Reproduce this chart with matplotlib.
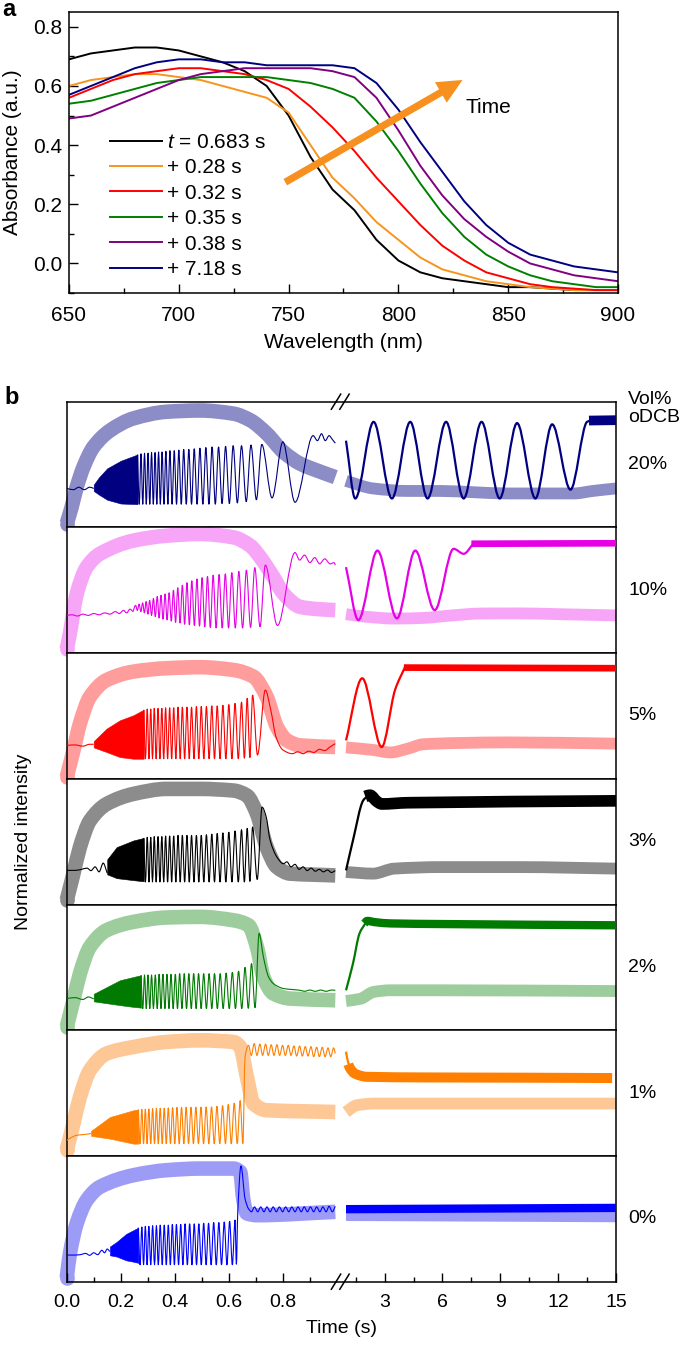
import numpy as np
import matplotlib
matplotlib.use("Agg")
import matplotlib.pyplot as plt
from matplotlib.path import Path
from matplotlib.patches import PathPatch

plt.rcParams['font.family'] = ['Liberation Sans', 'DejaVu Sans']
plt.rcParams['mathtext.fontset'] = 'custom'
plt.rcParams['mathtext.it'] = 'Liberation Sans:italic'
plt.rcParams['mathtext.rm'] = 'Liberation Sans'

# ---------------- panel a: absorbance spectra ----------------
wavelength = [650, 660, 670, 680, 690, 700, 710, 720, 730, 740, 750, 760, 770,
              780, 790, 800, 810, 820, 830, 840, 850, 860, 870, 880, 890, 900]
abs_t0683 = [0.69, 0.71, 0.72, 0.73, 0.73, 0.72, 0.70, 0.68, 0.65, 0.60, 0.50, 0.36, 0.25,
             0.18, 0.08, 0.01, -0.03, -0.05, -0.06, -0.07, -0.08, -0.08, -0.085, -0.09, -0.09, -0.09]
abs_p028 = [0.60, 0.62, 0.63, 0.64, 0.64, 0.63, 0.62, 0.60, 0.58, 0.56, 0.51, 0.40, 0.29,
            0.22, 0.14, 0.08, 0.02, -0.02, -0.04, -0.06, -0.07, -0.08, -0.085, -0.09, -0.09, -0.09]
abs_p032 = [0.56, 0.59, 0.62, 0.64, 0.65, 0.66, 0.66, 0.65, 0.64, 0.62, 0.59, 0.53, 0.46,
            0.38, 0.29, 0.21, 0.13, 0.06, 0.01, -0.03, -0.05, -0.07, -0.08, -0.085, -0.09, -0.09]
abs_p035 = [0.54, 0.55, 0.57, 0.59, 0.61, 0.62, 0.63, 0.63, 0.63, 0.63, 0.62, 0.61, 0.59,
            0.56, 0.48, 0.38, 0.27, 0.17, 0.09, 0.03, -0.01, -0.04, -0.06, -0.07, -0.08, -0.08]
abs_p038 = [0.49, 0.50, 0.53, 0.56, 0.59, 0.62, 0.64, 0.65, 0.66, 0.66, 0.66, 0.66, 0.65,
            0.63, 0.56, 0.45, 0.33, 0.23, 0.15, 0.09, 0.04, 0.0, -0.02, -0.04, -0.05, -0.06]
abs_p718 = [0.57, 0.60, 0.63, 0.66, 0.68, 0.69, 0.69, 0.68, 0.68, 0.67, 0.67, 0.67, 0.67,
            0.66, 0.61, 0.52, 0.41, 0.31, 0.21, 0.13, 0.07, 0.03, 0.01, -0.01, -0.02, -0.03]
spectra_labels = ['$t$ = 0.683 s', '+ 0.28 s', '+ 0.32 s', '+ 0.35 s', '+ 0.38 s', '+ 7.18 s']
spectra_colors = ['#000000', '#f7941d', '#ff0000', '#008000', '#800080', '#000080']

# ---------------- panel b: normalized intensity traces ----------------
vol_labels = ['20%', '10%', '5%', '3%', '2%', '1%', '0%']
thin_colors = ['#000080', '#e600e6', '#ff0000', '#000000', '#007a00', '#ff7f00', '#0000ff']
thick_colors = ['#8c8cc6', '#f7a6f7', '#ff9d9d', '#8c8c8c', '#9dcc9d', '#fdc896', '#9c9cf7']
plateau_lw = [7, 4.8, 4.8, 8.4, 6, 7.2, 6]

# 20 %
thick_l_20 = [(0, 0.03), (0.018, 0.16), (0.037, 0.32), (0.062, 0.48), (0.099, 0.64), (0.16, 0.77),
              (0.247, 0.867), (0.37, 0.92), (0.494, 0.93), (0.617, 0.905), (0.679, 0.853), (0.74, 0.747),
              (0.802, 0.60), (0.864, 0.507), (0.926, 0.453), (0.994, 0.40)]
thick_r_20 = [(1.0, 0.37), (2.4, 0.31), (4.2, 0.29), (5.9, 0.29), (7.6, 0.28), (9.4, 0.27),
              (11.1, 0.27), (12.8, 0.27), (13.8, 0.29), (15.0, 0.31)]
pre_20 = [(0, 0.31), (0.025, 0.30), (0.045, 0.32), (0.065, 0.30), (0.085, 0.32), (0.10, 0.31)]
band_20 = [(0.10, 0.29, 0.34), (0.12, 0.26, 0.40), (0.15, 0.22, 0.47), (0.20, 0.19, 0.53), (0.262, 0.185, 0.58)]
fringe_20 = [(0.262, 0.58), (0.2685, 0.185), (0.275, 0.585), (0.2815, 0.185), (0.288, 0.59), (0.2945, 0.185),
             (0.301, 0.59), (0.3075, 0.185), (0.314, 0.595), (0.3205, 0.185), (0.327, 0.595), (0.3335, 0.185),
             (0.340, 0.60), (0.3465, 0.185), (0.353, 0.60), (0.360, 0.185), (0.367, 0.605), (0.3745, 0.185),
             (0.382, 0.61), (0.390, 0.185), (0.398, 0.61), (0.4065, 0.185), (0.415, 0.615), (0.424, 0.185),
             (0.433, 0.62), (0.4425, 0.185), (0.452, 0.62), (0.462, 0.185), (0.472, 0.625), (0.4825, 0.185),
             (0.493, 0.63), (0.504, 0.185), (0.515, 0.635), (0.5265, 0.185), (0.538, 0.64), (0.550, 0.185),
             (0.562, 0.64), (0.575, 0.19), (0.588, 0.645), (0.602, 0.19), (0.616, 0.65), (0.6315, 0.195),
             (0.647, 0.65), (0.6645, 0.205), (0.682, 0.655), (0.702, 0.22), (0.722, 0.66), (0.760, 0.235),
             (0.800, 0.68), (0.845, 0.20), (0.912, 0.73), (0.928, 0.69), (0.943, 0.745), (0.957, 0.69),
             (0.971, 0.73), (0.983, 0.70), (0.994, 0.67)]
thin_r_20 = [(1.0, 0.69), (1.48, 0.23), (2.43, 0.84), (3.38, 0.23), (4.33, 0.84), (5.23, 0.23),
             (6.19, 0.84), (7.10, 0.23), (8.03, 0.84), (8.97, 0.23), (9.87, 0.83), (10.82, 0.23),
             (11.69, 0.82), (12.64, 0.30), (13.5, 0.84), (13.7, 0.85)]
plateau_20 = [(13.6, 0.85), (15.0, 0.853)]

# 10 %
thick_l_10 = [(0, 0.03), (0.012, 0.16), (0.037, 0.47), (0.074, 0.684), (0.123, 0.79), (0.247, 0.895),
              (0.37, 0.934), (0.494, 0.948), (0.617, 0.921), (0.679, 0.855), (0.716, 0.763), (0.765, 0.605),
              (0.802, 0.474), (0.864, 0.368), (0.93, 0.35), (0.994, 0.342)]
thick_r_10 = [(1.0, 0.31), (2.0, 0.29), (3.5, 0.275), (5.0, 0.28), (6.5, 0.30), (8.0, 0.315),
              (10.0, 0.316), (12.0, 0.31), (15.0, 0.30)]
pre_10 = [(0, 0.30), (0.02, 0.305), (0.04, 0.295), (0.06, 0.31), (0.08, 0.30), (0.10, 0.315), (0.12, 0.305),
          (0.14, 0.32), (0.16, 0.31), (0.18, 0.33), (0.195, 0.315), (0.21, 0.34), (0.222, 0.32),
          (0.234, 0.35), (0.245, 0.33)]
band_10 = []
fringe_10 = [(0.245, 0.33), (0.255, 0.38), (0.2615, 0.34), (0.268, 0.39), (0.2745, 0.33), (0.281, 0.40),
             (0.2875, 0.32), (0.294, 0.41), (0.3005, 0.31), (0.307, 0.42), (0.314, 0.30), (0.321, 0.435),
             (0.328, 0.29), (0.335, 0.45), (0.342, 0.28), (0.349, 0.46), (0.3565, 0.27), (0.364, 0.47),
             (0.3715, 0.265), (0.379, 0.48), (0.387, 0.255), (0.395, 0.50), (0.403, 0.245), (0.411, 0.52),
             (0.4195, 0.24), (0.428, 0.54), (0.4365, 0.23), (0.445, 0.56), (0.454, 0.225), (0.463, 0.575),
             (0.4725, 0.22), (0.482, 0.59), (0.4915, 0.215), (0.501, 0.60), (0.511, 0.21), (0.521, 0.61),
             (0.5315, 0.205), (0.542, 0.62), (0.553, 0.20), (0.564, 0.625), (0.5755, 0.20), (0.587, 0.63),
             (0.599, 0.20), (0.611, 0.64), (0.624, 0.20), (0.637, 0.65), (0.651, 0.20), (0.665, 0.66),
             (0.6805, 0.205), (0.696, 0.68), (0.7155, 0.21), (0.735, 0.70), (0.78, 0.22), (0.845, 0.80),
             (0.862, 0.74), (0.88, 0.78), (0.90, 0.72), (0.918, 0.76), (0.936, 0.71), (0.955, 0.75),
             (0.975, 0.71), (0.99, 0.72), (0.994, 0.70)]
thin_r_10 = [(1.0, 0.684), (1.64, 0.263), (2.63, 0.816), (3.64, 0.276), (4.59, 0.816), (5.6, 0.342),
             (6.58, 0.83), (7.1, 0.79), (7.6, 0.87)]
plateau_10 = [(7.5, 0.87), (15.0, 0.874)]

# 5 %
thick_l_5 = [(0, 0.013), (0.025, 0.226), (0.049, 0.44), (0.086, 0.653), (0.148, 0.786), (0.247, 0.853),
             (0.37, 0.88), (0.494, 0.888), (0.617, 0.866), (0.691, 0.813), (0.74, 0.653), (0.778, 0.413),
             (0.815, 0.306), (0.864, 0.266), (0.994, 0.253)]
thick_r_5 = [(1.0, 0.25), (2.4, 0.23), (3.3, 0.21), (4.2, 0.24), (5.0, 0.275), (6.8, 0.285),
             (9.4, 0.29), (15.0, 0.28)]
pre_5 = [(0, 0.266), (0.03, 0.27), (0.06, 0.26), (0.085, 0.275), (0.10, 0.275)]
band_5 = [(0.10, 0.25, 0.30), (0.148, 0.213, 0.40), (0.197, 0.173, 0.466), (0.247, 0.16, 0.506),
          (0.285, 0.16, 0.55)]
fringe_5 = [(0.285, 0.55), (0.2915, 0.16), (0.298, 0.555), (0.3045, 0.16), (0.311, 0.555), (0.3175, 0.16),
            (0.324, 0.56), (0.331, 0.16), (0.338, 0.56), (0.345, 0.16), (0.352, 0.56), (0.359, 0.16),
            (0.366, 0.565), (0.3735, 0.16), (0.381, 0.565), (0.3885, 0.16), (0.396, 0.565), (0.404, 0.16),
            (0.412, 0.57), (0.420, 0.16), (0.428, 0.57), (0.4365, 0.16), (0.445, 0.57), (0.4535, 0.16),
            (0.462, 0.57), (0.471, 0.16), (0.480, 0.575), (0.489, 0.16), (0.498, 0.575), (0.5075, 0.16),
            (0.517, 0.575), (0.527, 0.16), (0.537, 0.58), (0.547, 0.16), (0.557, 0.58), (0.5675, 0.16),
            (0.578, 0.585), (0.589, 0.16), (0.600, 0.59), (0.6115, 0.16), (0.623, 0.60), (0.635, 0.16),
            (0.647, 0.61), (0.6575, 0.165), (0.668, 0.64), (0.678, 0.17), (0.688, 0.666), (0.706, 0.19),
            (0.735, 0.706), (0.755, 0.55), (0.775, 0.33), (0.80, 0.23), (0.835, 0.20), (0.855, 0.215),
            (0.875, 0.20), (0.895, 0.22), (0.915, 0.21), (0.935, 0.235), (0.955, 0.225), (0.975, 0.255),
            (0.994, 0.28)]
thin_r_5 = [(1.0, 0.306), (1.84, 0.80), (2.85, 0.253), (3.54, 0.706), (4.06, 0.89)]
plateau_5 = [(4.0, 0.885), (15.0, 0.88)]

# 3 %
thick_l_3 = [(0, 0.035), (0.025, 0.246), (0.049, 0.457), (0.086, 0.667), (0.148, 0.80), (0.247, 0.88),
             (0.37, 0.92), (0.494, 0.92), (0.617, 0.907), (0.667, 0.867), (0.704, 0.722), (0.74, 0.457),
             (0.778, 0.298), (0.827, 0.246), (0.994, 0.232)]
thick_r_3 = [(1.0, 0.259), (2.4, 0.246), (3.5, 0.286), (5.9, 0.298), (10.0, 0.298), (15.0, 0.286)]
pre_3 = [(0, 0.272), (0.03, 0.272), (0.055, 0.28), (0.075, 0.29), (0.09, 0.27), (0.105, 0.30),
         (0.12, 0.26), (0.135, 0.33), (0.15, 0.25)]
band_3 = [(0.15, 0.24, 0.36), (0.185, 0.21, 0.457), (0.247, 0.194, 0.51), (0.285, 0.185, 0.53)]
fringe_3 = [(0.285, 0.53), (0.2915, 0.18), (0.298, 0.535), (0.3045, 0.18), (0.311, 0.535), (0.3175, 0.18),
            (0.324, 0.54), (0.331, 0.18), (0.338, 0.54), (0.345, 0.18), (0.352, 0.54), (0.359, 0.18),
            (0.366, 0.545), (0.3735, 0.18), (0.381, 0.545), (0.3885, 0.18), (0.396, 0.545), (0.404, 0.18),
            (0.412, 0.55), (0.420, 0.18), (0.428, 0.55), (0.4365, 0.18), (0.445, 0.55), (0.4535, 0.18),
            (0.462, 0.55), (0.471, 0.18), (0.480, 0.55), (0.489, 0.18), (0.498, 0.55), (0.5075, 0.18),
            (0.517, 0.555), (0.527, 0.18), (0.537, 0.56), (0.547, 0.18), (0.557, 0.565), (0.5675, 0.18),
            (0.578, 0.57), (0.589, 0.18), (0.600, 0.575), (0.6115, 0.18), (0.623, 0.585), (0.635, 0.18),
            (0.647, 0.595), (0.6575, 0.18), (0.668, 0.605), (0.678, 0.185), (0.688, 0.617), (0.705, 0.20),
            (0.723, 0.775), (0.738, 0.70), (0.753, 0.51), (0.778, 0.378), (0.802, 0.325), (0.815, 0.34),
            (0.830, 0.30), (0.845, 0.32), (0.860, 0.28), (0.875, 0.30), (0.890, 0.27), (0.905, 0.29),
            (0.920, 0.265), (0.935, 0.28), (0.950, 0.26), (0.965, 0.275), (0.980, 0.255), (0.994, 0.27)]
thin_r_3 = [(1.0, 0.272), (1.36, 0.51), (1.89, 0.828), (2.1, 0.86)]
plateau_3 = [(2.0, 0.86), (2.24, 0.87), (2.6, 0.82), (2.85, 0.80), (4.2, 0.81), (15.0, 0.825)]

# 2 %
thick_l_2 = [(0, 0.026), (0.025, 0.239), (0.049, 0.451), (0.086, 0.663), (0.148, 0.796), (0.247, 0.862),
             (0.37, 0.897), (0.494, 0.902), (0.617, 0.875), (0.673, 0.835), (0.704, 0.663), (0.728, 0.424),
             (0.765, 0.292), (0.827, 0.252), (0.994, 0.239)]
thick_r_2 = [(1.0, 0.233), (1.74, 0.25), (2.43, 0.305), (3.3, 0.318), (5.9, 0.318), (15.0, 0.312)]
pre_2 = [(0, 0.252), (0.03, 0.26), (0.06, 0.245), (0.08, 0.265), (0.10, 0.25)]
band_2 = [(0.10, 0.23, 0.29), (0.197, 0.20, 0.398), (0.247, 0.186, 0.424), (0.275, 0.18, 0.438)]
fringe_2 = [(0.275, 0.438), (0.2815, 0.173), (0.288, 0.44), (0.2945, 0.173), (0.301, 0.44), (0.3075, 0.173),
            (0.314, 0.44), (0.321, 0.173), (0.328, 0.44), (0.335, 0.173), (0.342, 0.445), (0.349, 0.173),
            (0.356, 0.445), (0.3635, 0.173), (0.371, 0.445), (0.3785, 0.173), (0.386, 0.445), (0.394, 0.173),
            (0.402, 0.445), (0.410, 0.173), (0.418, 0.45), (0.4265, 0.173), (0.435, 0.45), (0.4435, 0.173),
            (0.452, 0.45), (0.461, 0.173), (0.470, 0.45), (0.479, 0.173), (0.488, 0.45), (0.4975, 0.173),
            (0.507, 0.45), (0.517, 0.173), (0.527, 0.45), (0.537, 0.173), (0.547, 0.45), (0.5575, 0.173),
            (0.568, 0.45), (0.579, 0.173), (0.590, 0.455), (0.6015, 0.173), (0.613, 0.46), (0.6245, 0.173),
            (0.636, 0.47), (0.648, 0.173), (0.660, 0.50), (0.672, 0.175), (0.684, 0.53), (0.697, 0.18),
            (0.712, 0.77), (0.728, 0.583), (0.747, 0.424), (0.765, 0.371), (0.785, 0.345), (0.802, 0.332),
            (0.830, 0.325), (0.864, 0.318), (0.880, 0.31), (0.900, 0.32), (0.920, 0.31), (0.940, 0.32),
            (0.960, 0.31), (0.980, 0.32), (0.994, 0.318)]
thin_r_2 = [(1.0, 0.318), (1.36, 0.53), (1.7, 0.77), (2.0, 0.85)]
plateau_2 = [(1.95, 0.85), (2.1, 0.87), (2.5, 0.86), (3.3, 0.85), (5.9, 0.845), (15.0, 0.835)]

# 1 %
thick_l_1 = [(0, 0.045), (0.025, 0.258), (0.049, 0.469), (0.086, 0.682), (0.148, 0.815), (0.247, 0.867),
             (0.37, 0.907), (0.494, 0.92), (0.617, 0.907), (0.642, 0.867), (0.667, 0.628), (0.691, 0.417),
             (0.74, 0.364), (0.994, 0.35)]
thick_r_1 = [(1.0, 0.35), (1.55, 0.403), (2.43, 0.417), (15.0, 0.417)]
pre_1 = [(0, 0.125), (0.02, 0.15), (0.037, 0.165), (0.06, 0.17), (0.08, 0.175), (0.09, 0.18)]
band_1 = [(0.09, 0.16, 0.20), (0.16, 0.138, 0.31), (0.247, 0.098, 0.364), (0.265, 0.098, 0.37)]
fringe_1 = [(0.265, 0.37), (0.2715, 0.098), (0.278, 0.37), (0.2845, 0.098), (0.291, 0.372), (0.2975, 0.098),
            (0.304, 0.374), (0.311, 0.098), (0.318, 0.376), (0.325, 0.098), (0.332, 0.378), (0.339, 0.098),
            (0.346, 0.38), (0.3535, 0.098), (0.361, 0.38), (0.3685, 0.098), (0.376, 0.382), (0.384, 0.098),
            (0.392, 0.384), (0.400, 0.098), (0.408, 0.386), (0.4165, 0.098), (0.425, 0.386), (0.4335, 0.098),
            (0.442, 0.387), (0.451, 0.098), (0.460, 0.387), (0.469, 0.098), (0.478, 0.388), (0.4875, 0.098),
            (0.497, 0.388), (0.5065, 0.098), (0.516, 0.39), (0.526, 0.098), (0.536, 0.39), (0.546, 0.098),
            (0.556, 0.395), (0.5665, 0.098), (0.577, 0.40), (0.5875, 0.098), (0.598, 0.41), (0.609, 0.098),
            (0.620, 0.42), (0.631, 0.10), (0.642, 0.44), (0.652, 0.10), (0.660, 0.788), (0.673, 0.88),
            (0.683, 0.80), (0.694, 0.894), (0.704, 0.80), (0.715, 0.89), (0.725, 0.80), (0.736, 0.89),
            (0.746, 0.80), (0.757, 0.885), (0.767, 0.80), (0.778, 0.885), (0.788, 0.80), (0.799, 0.88),
            (0.809, 0.80), (0.820, 0.88), (0.830, 0.80), (0.841, 0.875), (0.851, 0.795), (0.862, 0.875),
            (0.872, 0.795), (0.883, 0.87), (0.893, 0.795), (0.904, 0.87), (0.914, 0.79), (0.925, 0.865),
            (0.935, 0.79), (0.946, 0.865), (0.956, 0.79), (0.967, 0.86), (0.977, 0.79), (0.988, 0.86),
            (0.994, 0.815)]
thin_r_1 = [(1.0, 0.83), (1.1, 0.75), (1.2, 0.71)]
plateau_1 = [(1.12, 0.73), (1.2, 0.70), (1.46, 0.655), (2.07, 0.63), (5.0, 0.625), (10.0, 0.623), (14.8, 0.62)]

# 0 %
thick_l_0 = [(0, 0.027), (0.012, 0.225), (0.037, 0.463), (0.074, 0.648), (0.123, 0.754), (0.247, 0.847),
             (0.37, 0.887), (0.494, 0.90), (0.617, 0.90), (0.642, 0.873), (0.654, 0.648), (0.667, 0.543),
             (0.704, 0.529), (0.994, 0.556)]
thick_r_0 = [(1.0, 0.53), (8.0, 0.525), (15.0, 0.52)]
pre_0 = [(0, 0.212), (0.03, 0.212), (0.05, 0.215), (0.07, 0.225), (0.085, 0.21), (0.10, 0.23),
         (0.115, 0.215), (0.13, 0.25), (0.14, 0.23), (0.15, 0.26), (0.16, 0.24)]
band_0 = [(0.16, 0.21, 0.28), (0.185, 0.20, 0.317), (0.22, 0.17, 0.38), (0.247, 0.159, 0.41), (0.265, 0.15, 0.43)]
fringe_0 = [(0.265, 0.43), (0.2715, 0.135), (0.278, 0.435), (0.2845, 0.135), (0.291, 0.44), (0.2975, 0.135),
            (0.304, 0.44), (0.311, 0.135), (0.318, 0.445), (0.325, 0.135), (0.332, 0.445), (0.339, 0.135),
            (0.346, 0.45), (0.3535, 0.135), (0.361, 0.45), (0.3685, 0.135), (0.376, 0.45), (0.3835, 0.135),
            (0.391, 0.455), (0.3985, 0.135), (0.406, 0.455), (0.414, 0.135), (0.422, 0.455), (0.430, 0.135),
            (0.438, 0.46), (0.4465, 0.135), (0.455, 0.46), (0.4635, 0.135), (0.472, 0.46), (0.4805, 0.135),
            (0.489, 0.46), (0.498, 0.135), (0.507, 0.465), (0.516, 0.135), (0.525, 0.465), (0.5345, 0.135),
            (0.544, 0.47), (0.5535, 0.135), (0.563, 0.47), (0.573, 0.135), (0.583, 0.475), (0.593, 0.135),
            (0.603, 0.48), (0.613, 0.135), (0.623, 0.49), (0.628, 0.14), (0.633, 0.55), (0.645, 0.92),
            (0.660, 0.66), (0.673, 0.58), (0.684, 0.556), (0.695, 0.595), (0.707, 0.556), (0.718, 0.595),
            (0.730, 0.556), (0.741, 0.595), (0.753, 0.556), (0.764, 0.595), (0.776, 0.556), (0.787, 0.595),
            (0.799, 0.556), (0.810, 0.595), (0.822, 0.556), (0.833, 0.595), (0.845, 0.556), (0.856, 0.595),
            (0.868, 0.556), (0.879, 0.595), (0.891, 0.556), (0.902, 0.595), (0.914, 0.556), (0.925, 0.595),
            (0.937, 0.556), (0.948, 0.595), (0.960, 0.556), (0.971, 0.60), (0.983, 0.556), (0.994, 0.60)]
thin_r_0 = []
plateau_0 = [(1.0, 0.577), (15.0, 0.587)]

rows = [
    (thick_l_20, thick_r_20, pre_20, band_20, fringe_20, thin_r_20, plateau_20),
    (thick_l_10, thick_r_10, pre_10, band_10, fringe_10, thin_r_10, plateau_10),
    (thick_l_5, thick_r_5, pre_5, band_5, fringe_5, thin_r_5, plateau_5),
    (thick_l_3, thick_r_3, pre_3, band_3, fringe_3, thin_r_3, plateau_3),
    (thick_l_2, thick_r_2, pre_2, band_2, fringe_2, thin_r_2, plateau_2),
    (thick_l_1, thick_r_1, pre_1, band_1, fringe_1, thin_r_1, plateau_1),
    (thick_l_0, thick_r_0, pre_0, band_0, fringe_0, thin_r_0, plateau_0),
]

# broken time axis: 0-1 s stretched, 1-15 s compressed, small gap between
GAP = 0.0337
K = 0.07137


def fwd(t):
    t = np.asarray(t, float)
    return np.where(t < 0.999, t, 1.0 + GAP + (t - 1.0) * K)


def inv(u):
    u = np.asarray(u, float)
    return np.where(u < 1.0 + GAP, np.minimum(u, 0.999), 1.0 + (u - 1.0 - GAP) / K)


def smooth(ax, pts, color, lw, z=3, clip=True):
    """Draw a smooth curve through the given points (cubic Bezier pieces)."""
    if len(pts) < 2:
        return
    p = np.asarray(pts, float)
    t, y = p[:, 0], p[:, 1]
    d = np.diff(y) / np.diff(t)
    s = np.empty_like(y)
    s[0], s[-1] = d[0], d[-1]
    inner = d[:-1] * d[1:]
    with np.errstate(divide='ignore', invalid='ignore'):
        hm = 2.0 / (1.0 / d[:-1] + 1.0 / d[1:])
    s[1:-1] = np.where(inner > 0, hm, 0.0)
    verts = [p[0]]
    codes = [Path.MOVETO]
    for i in range(len(p) - 1):
        dt = t[i + 1] - t[i]
        verts += [(t[i] + dt / 3, y[i] + s[i] * dt / 3),
                  (t[i + 1] - dt / 3, y[i + 1] - s[i + 1] * dt / 3),
                  (t[i + 1], y[i + 1])]
        codes += [Path.CURVE4] * 3
    patch = PathPatch(Path(verts, codes), fill=False, edgecolor=color, lw=lw,
                      capstyle='butt', joinstyle='round', zorder=z)
    patch.set_clip_on(clip)
    ax.add_patch(patch)


fig = plt.figure(figsize=(6.85, 13.48), dpi=100)

# ---------------- panel a ----------------
axa = fig.add_axes([0.1007, 0.7826, 0.8015, 0.2085])
for vals, lab, col in zip([abs_t0683, abs_p028, abs_p032, abs_p035, abs_p038, abs_p718],
                          spectra_labels, spectra_colors):
    axa.plot(wavelength, vals, color=col, lw=1.4, label=lab)
axa.set_xlim(650, 900)
axa.set_ylim(-0.1, 0.85)
axa.set_xticks([650, 700, 750, 800, 850, 900])
axa.set_xticks([675, 725, 775, 825, 875], minor=True)
axa.set_yticks([0.0, 0.2, 0.4, 0.6, 0.8])
axa.set_yticklabels(['0.0', '0.2', '0.4', '0.6', '0.8'])
axa.set_yticks([-0.1, 0.1, 0.3, 0.5, 0.7], minor=True)
axa.tick_params(which='both', direction='in', width=1, labelsize=15)
axa.tick_params(which='major', length=6.5)
axa.tick_params(which='minor', length=3.3)
axa.tick_params(axis='x', pad=9)
axa.tick_params(axis='y', pad=5)
for sp in axa.spines.values():
    sp.set_linewidth(1.1)
axa.set_xlabel('Wavelength (nm)', fontsize=15, labelpad=6)
axa.set_ylabel('Absorbance (a.u.)', fontsize=15, labelpad=8)
axa.legend(loc='upper left', bbox_to_anchor=(0.075, 0.57), frameon=False, fontsize=15,
           handlelength=2.5, handletextpad=0.25, labelspacing=0.31, borderpad=0, borderaxespad=0)
axa.annotate('', xy=(830.3, 0.625), xytext=(747.4, 0.27),
             arrowprops=dict(arrowstyle='simple,head_length=0.9,head_width=0.85,tail_width=0.26',
                             mutation_scale=20, color='#f7901e', lw=0))
axa.text(830.5, 0.527, 'Time', fontsize=15, ha='left', va='center')
fig.text(0.003, 1 - 9 / 1348, 'a', fontsize=17, fontweight='bold', ha='left', va='center')

# ---------------- panel b ----------------
top, bottom = 1 - 401.7 / 1348, 1 - 1281.7 / 1348
left, width = 66.7 / 685, (616 - 66.7) / 685
h = (top - bottom) / 7
axes_b = []
for i, (tl, tr, pre, band, fr, thr, plat) in enumerate(rows):
    ax = fig.add_axes([left, top - (i + 1) * h, width, h])
    ax.set_xscale('function', functions=(fwd, inv))
    ax.set_xlim(0, 15)
    ax.set_ylim(0, 1)
    ax.set_yticks([])
    for sp in ax.spines.values():
        sp.set_linewidth(1.1)
    thin_c, thick_c = thin_colors[i], thick_colors[i]

    smooth(ax, tl, thick_c, 10.5, z=1, clip=False)
    ax.plot(tl[0][0], tl[0][1], 'o', ms=10.5, color=thick_c, mec='none', zorder=1, clip_on=False)
    smooth(ax, tr, thick_c, 8.5, z=1, clip=False)

    smooth(ax, pre, thin_c, 0.8, z=3)
    if band:
        b = np.asarray(band, float)
        ax.fill_between(b[:, 0], b[:, 1], b[:, 2], color=thin_c, lw=0.4, zorder=3)
    smooth(ax, fr, thin_c, 0.8, z=3)
    smooth(ax, thr, thin_c, 1.6, z=3)
    smooth(ax, plat, thin_c, plateau_lw[i], z=3)

    yc = top - (i + 0.5) * h
    fig.text(628 / 685, yc, vol_labels[i], fontsize=14, ha='left', va='center')
    axes_b.append(ax)

for ax in axes_b[:-1]:
    ax.set_xticks([])
    ax.set_xticks([], minor=True)

axb = axes_b[-1]
axb.set_xticks([0, 0.2, 0.4, 0.6, 0.8, 3, 6, 9, 12, 15])
axb.set_xticklabels(['0.0', '0.2', '0.4', '0.6', '0.8', '3', '6', '9', '12', '15'])
axb.set_xticks([0.1, 0.3, 0.5, 0.7, 0.9, 1.5, 4.5, 7.5, 10.5, 13.5], minor=True)
axb.tick_params(axis='x', which='both', direction='in', width=1, labelsize=14, pad=9)
axb.tick_params(axis='x', which='major', length=6.5)
axb.tick_params(axis='x', which='minor', length=3.3)
axb.set_xlabel('Time (s)', fontsize=14, labelpad=6)

# break marks on the time axis
for ax, yb in ((axes_b[0], 1.0), (axes_b[-1], 0.0)):
    for xc in (0.4903, 0.5057):
        ax.plot([xc - 0.0085, xc + 0.0085], [yb - 0.06, yb + 0.06], color='black', lw=1.1,
                transform=ax.transAxes, clip_on=False, zorder=5)

fig.text(628 / 685, 1 - 400 / 1348, 'Vol%', fontsize=14, ha='left', va='center')
fig.text(628 / 685, 1 - 418 / 1348, 'oDCB', fontsize=14, ha='left', va='center')
fig.text(24 / 685, 1 - 841.5 / 1348, 'Normalized intensity', fontsize=14, rotation=90,
         ha='center', va='center')
fig.text(0.006, 1 - 397 / 1348, 'b', fontsize=17, fontweight='bold', ha='left', va='center')

fig.savefig('out.png', dpi=100)
